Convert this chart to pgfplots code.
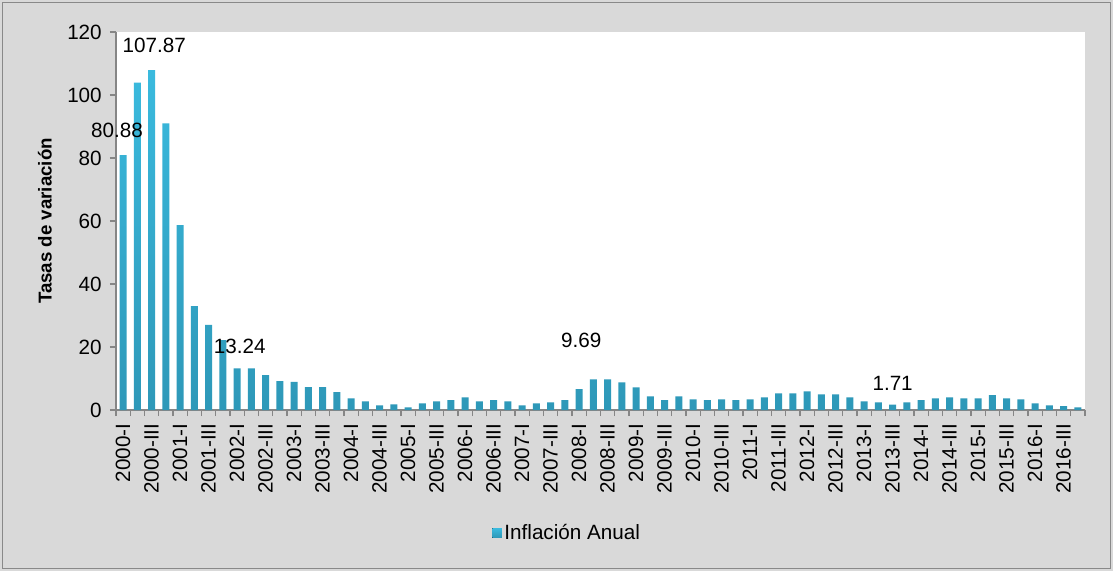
\documentclass[border=0pt]{standalone}
\usepackage{pgfplots}
\pgfplotsset{compat=1.18}
\usepackage{fontspec}
\setmainfont{Liberation Sans}
\definecolor{bgGray}{RGB}{217,217,217}
\definecolor{borderGray}{RGB}{137,137,137}
\definecolor{axGray}{RGB}{134,134,134}
\definecolor{barTop}{RGB}{58,186,222}
\definecolor{barBot}{RGB}{46,152,184}
\begin{document}
\begin{tikzpicture}
\fill[bgGray] (0,0) rectangle (834.75pt,428.25pt);
\draw[borderGray, line width=1.3pt] (1.9pt,1.9pt) rectangle (832.85pt,426.35pt);
\begin{axis}[
  at={(87pt,120.75pt)}, anchor=south west,
  scale only axis, width=726.75pt, height=283.5pt,
  xmin=0.5, xmax=68.5, ymin=0, ymax=120,
  axis background/.style={fill=white},
  axis x line*=bottom, axis y line*=left,
  axis line style={axGray, line width=1pt},
  every tick/.style={axGray, line width=1pt},
  tick align=outside,
  major tick length=4.5pt,
  ytick={0,20,...,120},
  /pgf/number format/assume math mode=true,
  yticklabel style={font=\fontsize{15.5}{18}\selectfont, inner sep=2pt, xshift=-4pt},
  xtick={0.5,1.5,...,68.5},
  xticklabels={},
  extra x ticks={1,3,...,67},
  extra x tick labels={2000-I,2000-III,2001-I,2001-III,2002-I,2002-III,2003-I,2003-III,2004-I,2004-III,2005-I,2005-III,2006-I,2006-III,2007-I,2007-III,2008-I,2008-III,2009-I,2009-III,2010-I,2010-III,2011-I,2011-III,2012-I,2012-III,2013-I,2013-III,2014-I,2014-III,2015-I,2015-III,2016-I,2016-III},
  extra x tick style={major tick length=0pt, xticklabel style={rotate=90, anchor=east, inner sep=0pt, font=\fontsize{15.5}{18}\selectfont, xshift=-10pt}},
  ylabel={\bfseries Tasas de variación},
  ylabel style={at={(axis description cs:-0.0733,0.5)}, anchor=center, font=\fontsize{14}{16}\selectfont},
  legend style={at={(0.466,-0.325)}, anchor=center, draw=none, fill=none, font=\fontsize{15.5}{18}\selectfont, legend cell align=left},
  legend image code/.code={\fill[top color=barTop, bottom color=barBot] (0pt,-3.5pt) rectangle (7pt,3.5pt);},
  clip=false,
]
\addplot[ybar, bar width=0.5, draw=none, top color=barTop, bottom color=barBot] coordinates {
(1,80.88) (2,103.9) (3,107.87) (4,91.0) (5,58.7) (6,33.0) (7,27.0) (8,22.2)
(9,13.24) (10,13.2) (11,11.1) (12,9.2) (13,8.9) (14,7.3) (15,7.3) (16,5.7)
(17,3.7) (18,2.75) (19,1.5) (20,1.8) (21,0.85) (22,2.1) (23,2.75) (24,3.1)
(25,4.0) (26,2.75) (27,3.1) (28,2.75) (29,1.5) (30,2.1) (31,2.4) (32,3.1)
(33,6.6) (34,9.7) (35,9.69) (36,8.8) (37,7.2) (38,4.3) (39,3.1) (40,4.3)
(41,3.4) (42,3.1) (43,3.4) (44,3.1) (45,3.4) (46,4.0) (47,5.3) (48,5.3)
(49,5.9) (50,5.0) (51,5.0) (52,4.0) (53,2.75) (54,2.4) (55,1.71) (56,2.4)
(57,3.1) (58,3.7) (59,4.0) (60,3.7) (61,3.7) (62,4.7) (63,3.7) (64,3.4)
(65,2.1) (66,1.5) (67,1.2) (68,0.85)
};
\addlegendentry{Inflación Anual}
\node[font=\fontsize{15.5}{18}\selectfont] at (axis cs:0.57,88.9) {80.88};
\node[font=\fontsize{15.5}{18}\selectfont] at (axis cs:3.19,115.9) {107.87};
\node[font=\fontsize{15.5}{18}\selectfont] at (axis cs:9.18,20.1) {13.24};
\node[font=\fontsize{15.5}{18}\selectfont] at (axis cs:33.15,22.0) {9.69};
\node[font=\fontsize{15.5}{18}\selectfont] at (axis cs:55.0,8.5) {1.71};
\end{axis}
\pgfresetboundingbox
\useasboundingbox (0,0) rectangle (834.75pt,428.25pt);
\end{tikzpicture}
\end{document}
